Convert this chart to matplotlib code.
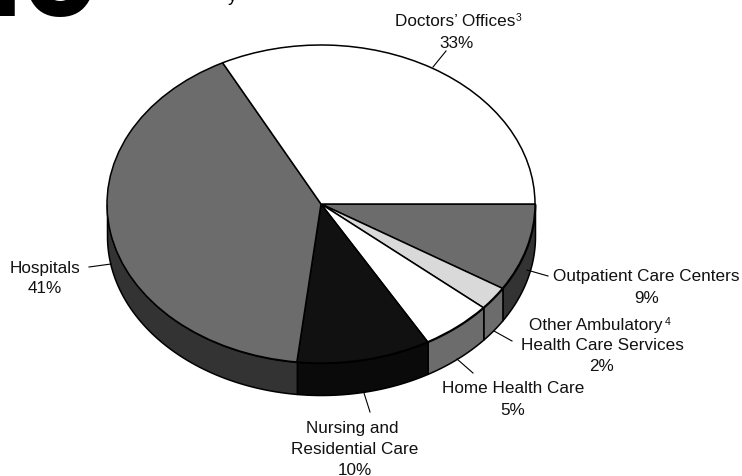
import numpy as np
import matplotlib
matplotlib.use("Agg")
import matplotlib.pyplot as plt

plt.rcParams["font.family"] = ["Liberation Sans", "DejaVu Sans"]

# shares, clockwise from 3 o'clock
categories = ["Outpatient Care Centers", "Other Ambulatory Health Care Services",
              "Home Health Care", "Nursing and Residential Care", "Hospitals", "Doctors' Offices"]
shares = [8.9, 2.4, 5.4, 10.1, 40.6, 32.6]
top_colors = ["#6c6c6c", "#d9d9d9", "#ffffff", "#111111", "#6c6c6c", "#ffffff"]
wall_colors = ["#333333", "#6c6c6c", "#6c6c6c", "#0a0a0a", "#333333", "#ffffff"]

W, H = 742, 477
cx, cy, rx, ry, depth = 321, 205, 214, 159, 32

fig = plt.figure(figsize=(W / 100, H / 100), dpi=100)

# pie axes: unit circle stretched to an ellipse
ax = fig.add_axes([0, 0, 1, 1])
ax.pie(shares, colors=top_colors, startangle=0, counterclock=False, radius=1, center=(0, 0),
       wedgeprops={"edgecolor": "black", "linewidth": 1.1, "zorder": 5})
ax.set_aspect("auto")
ax.set_xlim(-cx / rx, (W - cx) / rx)
ax.set_ylim((cy - H) / ry, cy / ry)

# side wall of the pie
d = depth / ry
edges = np.cumsum([0] + shares) * 3.6
for a, b, c in zip(edges[:-1], edges[1:], wall_colors):
    if a >= 180:
        continue
    t = np.radians(np.linspace(a, min(b, 180), 80))
    ax.fill_between(np.cos(t), -np.sin(t), -np.sin(t) - d, color=c, ec="black", lw=1.1, zorder=4)

# overlay in pixel coordinates for the labels
ov = fig.add_axes([0, 0, 1, 1], facecolor="none")
ov.set_xlim(0, W)
ov.set_ylim(H, 0)
ov.axis("off")

fs = 12.35
lines = [
    ("Doctors’ Offices", 455, 22), ("33%", 457, 44),
    ("Hospitals", 45, 269), ("41%", 45, 289),
    ("Outpatient Care Centers", 646, 277), ("9%", 647, 299),
    ("Other Ambulatory", 596, 326), ("Health Care Services", 602, 346), ("2%", 602, 367),
    ("Home Health Care", 513, 389), ("5%", 513, 411),
    ("Nursing and", 352, 429), ("Residential Care", 355, 450), ("10%", 355, 471),
]
for txt, x, y in lines:
    ov.text(x, y, txt, ha="center", va="center", fontsize=fs, color="#111111")

ov.text(516, 18, "3", fontsize=7.5, ha="left", va="center", color="#111111")
ov.text(665, 322, "4", fontsize=7.5, ha="left", va="center", color="#111111")

leaders = [((446, 52), (433, 68)), ((527, 271), (548, 277)), ((494, 332), (512, 342)),
           ((457, 360), (473, 374)), ((364, 394), (370, 413)), ((89, 268), (111, 265))]
for p, q in leaders:
    ov.plot([p[0], q[0]], [p[1], q[1]], color="black", lw=0.8)

# title is cut off by the top of the picture
ov.text(-67, 16, "10", fontsize=110, fontweight="bold", ha="left", va="baseline", color="black")
ov.text(228, 1, "y", fontsize=13, ha="left", va="baseline", color="black", clip_on=False)

fig.savefig("out.png", dpi=100)
